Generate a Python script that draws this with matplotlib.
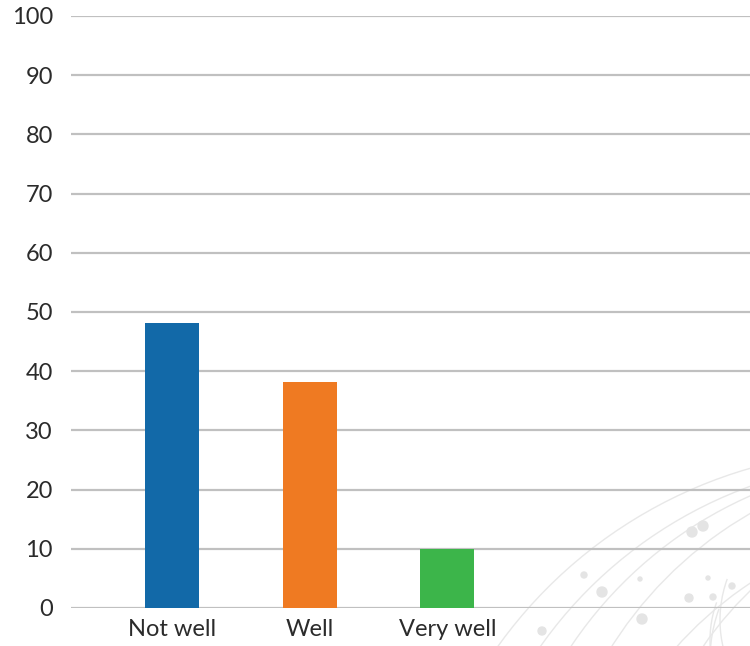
import numpy as np
import matplotlib.pyplot as plt
from matplotlib.patches import Arc, Circle

categories = ['Not well', 'Well', 'Very well']
values = [48.2, 38.2, 10.0]
colors = ['#1269a8', '#ef7a22', '#3cb54a']
yticks = [0, 10, 20, 30, 40, 50, 60, 70, 80, 90, 100]

plt.rcParams['font.family'] = ['Lato', 'DejaVu Sans']

fig = plt.figure(figsize=[7.5, 6.46], dpi=100)

# faint swirl decoration in the lower right corner
deco = fig.add_axes([0, 0, 1, 1], zorder=0)
deco.set_xlim(0, 750)
deco.set_ylim(646, 0)
deco.axis('off')
for cx, cy, r in [(900, 900, 440), (920, 880, 420), (950, 860, 400), (880, 920, 470),
                  (960, 900, 380), (1000, 850, 360)]:
    deco.add_patch(Arc((cx, cy), 2 * r, 2 * r, theta1=180, theta2=290, color='#e8e8e8', lw=1))
for cx, cy, r in [(820, 640, 110), (840, 620, 120), (860, 660, 150)]:
    deco.add_patch(Arc((cx, cy), 2 * r, 2 * r, theta1=90, theta2=200, color='#e8e8e8', lw=1))
for cx, cy, cr in [(692, 532, 5), (703, 526, 5), (584, 575, 3), (602, 592, 5), (640, 579, 2),
                   (689, 598, 4), (713, 597, 3), (542, 631, 4), (642, 619, 5), (732, 586, 3), (708, 578, 2)]:
    deco.add_patch(Circle((cx, cy), cr, color='#e4e4e4'))

ax = fig.add_axes([71 / 750, 38 / 646, 679 / 750, 592 / 646], zorder=1)
ax.patch.set_alpha(0)

x = np.arange(len(categories))
ax.bar(x, values, width=0.39, color=colors, zorder=3)

ax.set_ylim(0, 100)
ax.set_xlim(-0.735, 4.2)
ax.set_yticks(yticks)
ax.set_xticks(x)
ax.set_xticklabels(categories)
ax.yaxis.grid(True, color='#c0c0c0', linewidth=1.6, zorder=0)
ax.set_axisbelow(True)
ax.tick_params(axis='both', length=0, labelsize=17, colors='#2b2b2b')
ax.tick_params(axis='y', pad=13)
ax.tick_params(axis='x', pad=8)
for s in ax.spines.values():
    s.set_visible(False)

plt.savefig('out.png', dpi=100)
